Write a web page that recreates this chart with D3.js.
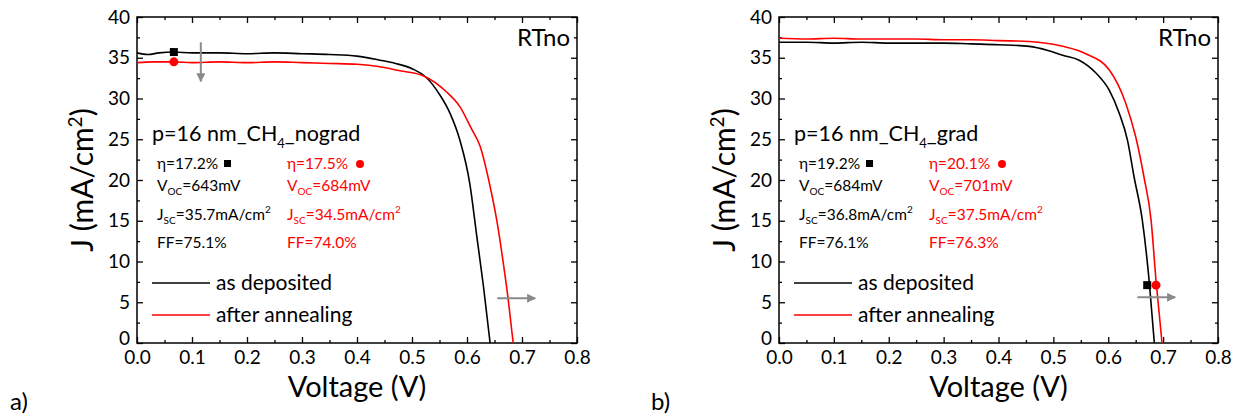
<!DOCTYPE html>
<html>
<head>
<meta charset="utf-8">
<script src="https://cdn.jsdelivr.net/npm/d3@7"></script>
<style>
  html, body { margin: 0; padding: 0; background: #fff; }
  svg { display: block; }
  text { font-family: Lato, "Open Sans", sans-serif; }
</style>
</head>
<body>
<svg id="chart" width="1236" height="417"></svg>
<script>
// ---------------- DATA ----------------
const voltageTicks = [0.0, 0.1, 0.2, 0.3, 0.4, 0.5, 0.6, 0.7, 0.8];
const currentTicks = [0, 5, 10, 15, 20, 25, 30, 35, 40];
const panelLetters = ["a)", "b)"];
const panelTags = ["RTno", "RTno"];
const sampleNames = ["nograd", "grad"];
const legendLabels = ["as deposited", "after annealing"];

// panel a – as deposited
const aDepV = [0, 0.02, 0.04, 0.067, 0.1, 0.15, 0.2, 0.25, 0.3, 0.35, 0.4, 0.442, 0.47, 0.502, 0.524, 0.551, 0.569, 0.587, 0.605, 0.618, 0.630, 0.642];
const aDepJ = [35.6, 35.4, 35.6, 35.7, 35.6, 35.6, 35.5, 35.6, 35.5, 35.4, 35.2, 34.7, 34.3, 33.6, 32.7, 30.4, 28.2, 24.9, 19.6, 13.0, 6.9, 0];
// panel a – after annealing
const aAnnV = [0, 0.03, 0.067, 0.1, 0.15, 0.2, 0.25, 0.3, 0.35, 0.4, 0.442, 0.478, 0.52, 0.563, 0.587, 0.608, 0.624, 0.642, 0.654, 0.666, 0.675, 0.684];
const aAnnJ = [34.4, 34.5, 34.5, 34.4, 34.5, 34.4, 34.5, 34.4, 34.3, 34.2, 33.9, 33.4, 32.8, 30.8, 29.0, 26.3, 24.1, 19.2, 15.1, 9.8, 5.3, 0];
// panel b – as deposited
const bDepV = [0, 0.05, 0.1, 0.15, 0.2, 0.25, 0.3, 0.35, 0.4, 0.456, 0.49, 0.517, 0.547, 0.578, 0.602, 0.62, 0.635, 0.647, 0.662, 0.675, 0.684];
const bDepJ = [36.9, 36.9, 36.8, 36.9, 36.8, 36.8, 36.8, 36.7, 36.6, 36.4, 35.9, 35.3, 34.7, 33.1, 31.0, 28.2, 24.9, 20.4, 15.1, 7.3, 0];
// panel b – after annealing
const bAnnV = [0, 0.05, 0.1, 0.15, 0.2, 0.25, 0.3, 0.35, 0.4, 0.456, 0.517, 0.559, 0.602, 0.632, 0.650, 0.665, 0.678, 0.687, 0.698];
const bAnnJ = [37.4, 37.3, 37.4, 37.3, 37.3, 37.3, 37.2, 37.2, 37.1, 37.0, 36.4, 35.5, 33.5, 29.4, 25.3, 20.4, 15.1, 7.7, 0];

// solar-cell parameters [eta, Voc, Jsc, FF]
const aDepStats = ["17.2%", "643mV", "35.7mA/cm", "75.1%"];
const aAnnStats = ["17.5%", "684mV", "34.5mA/cm", "74.0%"];
const bDepStats = ["19.2%", "684mV", "36.8mA/cm", "76.1%"];
const bAnnStats = ["20.1%", "701mV", "37.5mA/cm", "76.3%"];

// marker points (V, J) on the curves
const aDepMarker = [0.067, 35.7];
const aAnnMarker = [0.067, 34.5];
const bDepMarker = [0.671, 7.1];
const bAnnMarker = [0.687, 7.1];

// guide arrows [[V0,J0],[V1,J1]]
const aArrows = [[[0.116, 36.9], [0.116, 32.1]], [[0.655, 5.5], [0.724, 5.5]]];
const bArrows = [[[0.653, 5.6], [0.722, 5.6]]];

// ---------------- DRAW ----------------
const svg = d3.select("#chart");
const BLACK = "#000", RED = "#ff0000", GRAY = "#8a8a8a";
const TOP = 17, BOTTOM = 343;

svg.append("defs").append("marker")
  .attr("id", "ah").attr("viewBox", "0 0 10 10").attr("refX", 9).attr("refY", 5)
  .attr("markerWidth", 5.5).attr("markerHeight", 4.5).attr("orient", "auto")
  .attr("markerUnits", "strokeWidth")
  .append("path").attr("d", "M0,0L10,5L0,10z").attr("fill", GRAY);

const panels = [
  { left: 137, right: 577, dep: [aDepV, aDepJ], ann: [aAnnV, aAnnJ], depStats: aDepStats, annStats: aAnnStats,
    depM: aDepMarker, annM: aAnnMarker, arrows: aArrows, letterX: 10, name: sampleNames[0] },
  { left: 779, right: 1218, dep: [bDepV, bDepJ], ann: [bAnnV, bAnnJ], depStats: bDepStats, annStats: bAnnStats,
    depM: bDepMarker, annM: bAnnMarker, arrows: bArrows, letterX: 651, name: sampleNames[1] }
];

panels.forEach((p, i) => {
  const x = d3.scaleLinear().domain([0, 0.8]).range([p.left, p.right]);
  const y = d3.scaleLinear().domain([0, 40]).range([BOTTOM, TOP]);
  const g = svg.append("g");

  const minorX = d3.range(0.05, 0.8, 0.1);
  const minorY = d3.range(2.5, 40, 5);

  function styleAxis(sel) {
    sel.select(".domain").remove();
    sel.selectAll("line").attr("stroke", "#000").attr("stroke-width", 1.3);
  }
  // bottom
  g.append("g").attr("transform", `translate(0,${BOTTOM})`)
    .call(d3.axisBottom(x).tickValues(voltageTicks).tickFormat(d3.format(".1f")).tickSize(-6).tickPadding(8))
    .call(styleAxis)
    .selectAll("text").attr("font-size", 19).attr("fill", "#000").attr("font-family", "Lato, sans-serif");
  g.append("g").attr("transform", `translate(0,${BOTTOM})`)
    .call(d3.axisBottom(x).tickValues(minorX).tickFormat("").tickSize(-3)).call(styleAxis);
  // top
  g.append("g").attr("transform", `translate(0,${TOP})`)
    .call(d3.axisTop(x).tickValues(voltageTicks).tickFormat("").tickSize(-6)).call(styleAxis);
  g.append("g").attr("transform", `translate(0,${TOP})`)
    .call(d3.axisTop(x).tickValues(minorX).tickFormat("").tickSize(-3)).call(styleAxis);
  // left
  const yl = g.append("g").attr("transform", `translate(${p.left},0)`)
    .call(d3.axisLeft(y).tickValues(currentTicks).tickSize(-6).tickPadding(7))
    .call(styleAxis);
  yl.selectAll("text").attr("font-size", 19).attr("fill", "#000").attr("font-family", "Lato, sans-serif")
    .attr("dy", d => d === 0 ? "0.1em" : "0.32em");
  g.append("g").attr("transform", `translate(${p.left},0)`)
    .call(d3.axisLeft(y).tickValues(minorY).tickFormat("").tickSize(-3)).call(styleAxis);
  // right
  g.append("g").attr("transform", `translate(${p.right},0)`)
    .call(d3.axisRight(y).tickValues(currentTicks).tickFormat("").tickSize(-6)).call(styleAxis);
  g.append("g").attr("transform", `translate(${p.right},0)`)
    .call(d3.axisRight(y).tickValues(minorY).tickFormat("").tickSize(-3)).call(styleAxis);

  // frame
  g.append("rect").attr("x", p.left).attr("y", TOP).attr("width", p.right - p.left).attr("height", BOTTOM - TOP)
    .attr("fill", "none").attr("stroke", "#000").attr("stroke-width", 1.5);

  // curves
  const line = d3.line().x(d => x(d[0])).y(d => y(d[1])).curve(d3.curveMonotoneX);
  [[p.dep, BLACK], [p.ann, RED]].forEach(([s, c]) => {
    const pts = s[0].map((v, k) => [v, s[1][k]]);
    g.append("path").datum(pts).attr("d", line).attr("fill", "none").attr("stroke", c).attr("stroke-width", 1.6);
  });

  // markers on curves
  g.append("rect").attr("x", x(p.depM[0]) - 4).attr("y", y(p.depM[1]) - 4).attr("width", 8).attr("height", 8).attr("fill", BLACK);
  g.append("circle").attr("cx", x(p.annM[0])).attr("cy", y(p.annM[1])).attr("r", 4.5).attr("fill", RED);

  // arrows
  p.arrows.forEach(a => {
    g.append("line").attr("x1", x(a[0][0])).attr("y1", y(a[0][1])).attr("x2", x(a[1][0])).attr("y2", y(a[1][1]))
      .attr("stroke", GRAY).attr("stroke-width", 2).attr("marker-end", "url(#ah)");
  });

  // RTno
  g.append("text").attr("x", p.right - 7).attr("y", 46).attr("text-anchor", "end")
    .attr("font-size", 24).attr("fill", "#000").text(panelTags[i]);

  // sample title
  const t = g.append("text").attr("x", p.left + 15).attr("y", 141).attr("font-size", 21.5).attr("fill", "#000");
  t.append("tspan").text("p=16 nm_CH");
  t.append("tspan").attr("font-size", 13).attr("dy", 7).text("4");
  t.append("tspan").attr("dy", -7).text("_" + p.name);

  // stats columns
  function stats(x0, vals, color) {
    const fs = 15.5, sub = 10;
    const e = g.append("text").attr("x", x0).attr("y", 169).attr("font-size", fs).attr("fill", color);
    e.text("\u03b7=" + vals[0]);
    const v = g.append("text").attr("x", x0).attr("y", 191).attr("font-size", fs).attr("fill", color);
    v.append("tspan").text("V");
    v.append("tspan").attr("font-size", sub).attr("dy", 4).text("OC");
    v.append("tspan").attr("dy", -4).text("=" + vals[1]);
    const j = g.append("text").attr("x", x0).attr("y", 220).attr("font-size", fs).attr("fill", color);
    j.append("tspan").text("J");
    j.append("tspan").attr("font-size", sub).attr("dy", 4).text("SC");
    j.append("tspan").attr("dy", -4).text("=" + vals[2]);
    j.append("tspan").attr("font-size", sub).attr("dy", -7).text("2");
    g.append("text").attr("x", x0).attr("y", 248).attr("font-size", fs).attr("fill", color).text("FF=" + vals[3]);
  }
  stats(p.left + 20, p.depStats, BLACK);
  stats(p.left + 150, p.annStats, RED);
  // legend symbols next to eta
  g.append("rect").attr("x", p.left + 87).attr("y", 160).attr("width", 7).attr("height", 7).attr("fill", BLACK);
  g.append("circle").attr("cx", p.left + 223).attr("cy", 164).attr("r", 4).attr("fill", RED);

  // line legend
  [[BLACK, 283], [RED, 315]].forEach(([c, yy], k) => {
    g.append("line").attr("x1", p.left + 15).attr("x2", p.left + 73).attr("y1", yy).attr("y2", yy)
      .attr("stroke", c).attr("stroke-width", 1.6);
    g.append("text").attr("x", p.left + 79).attr("y", yy + 7).attr("font-size", 21).attr("fill", "#000").text(legendLabels[k]);
  });

  // axis titles
  g.append("text").attr("x", (p.left + p.right) / 2).attr("y", 397).attr("text-anchor", "middle")
    .attr("font-size", 29).attr("fill", "#000").text("Voltage (V)");
  const yt = g.append("text").attr("transform", `translate(${p.left - 44},${(TOP + BOTTOM) / 2}) rotate(-90)`)
    .attr("text-anchor", "middle").attr("font-size", 30).attr("fill", "#000");
  yt.append("tspan").text("J (mA/cm");
  yt.append("tspan").attr("font-size", 19).attr("dy", -11).text("2");
  yt.append("tspan").attr("dy", 11).text(")");

  // panel letter
  svg.append("text").attr("x", p.letterX).attr("y", 410).attr("font-size", 24).attr("fill", "#000").text(panelLetters[i]);
});
</script>
</body>
</html>
